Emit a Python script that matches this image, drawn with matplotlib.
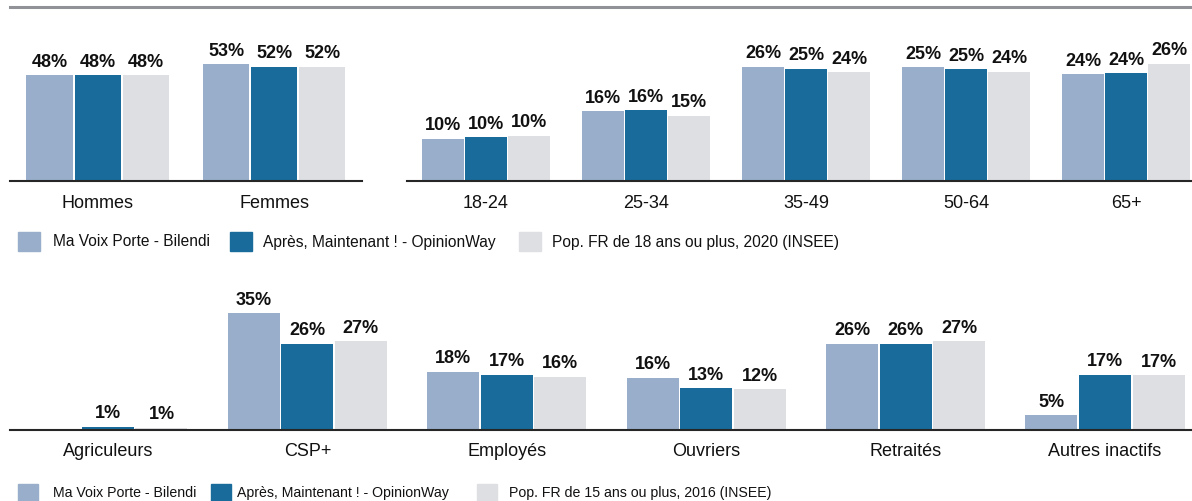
import matplotlib
matplotlib.use("Agg")
import matplotlib.pyplot as plt
from matplotlib import font_manager
from matplotlib.patches import Rectangle
from matplotlib.lines import Line2D

# ---- data -------------------------------------------------------------
gender_cats = ['Hommes', 'Femmes']
gender_bilendi = [48, 53]
gender_opinionway = [48, 52]
gender_pop = [48, 52]

age_cats = ['18-24', '25-34', '35-49', '50-64', '65+']
age_bilendi = [9.55, 15.8, 26.0, 25.8, 24.3]
age_opinionway = [9.9, 16.1, 25.45, 25.4, 24.5]
age_pop = [10.3, 14.8, 24.7, 24.8, 26.6]
age_bilendi_lbl = [10, 16, 26, 25, 24]
age_opinionway_lbl = [10, 16, 25, 25, 24]
age_pop_lbl = [10, 15, 24, 24, 26]

csp_cats = ['Agriculeurs', 'CSP+', 'Employés', 'Ouvriers', 'Retraités',
            'Autres inactifs']
csp_bilendi = [None, 35.1, 17.6, 15.8, 26.0, 4.4]
csp_opinionway = [1.0, 26.0, 16.7, 12.6, 26.0, 16.7]
csp_pop = [0.6, 26.7, 16.0, 12.2, 26.7, 16.5]
csp_bilendi_lbl = [None, 35, 18, 16, 26, 5]
csp_opinionway_lbl = [1, 26, 17, 13, 26, 17]
csp_pop_lbl = [1, 27, 16, 12, 27, 17]

series_names = ['Ma Voix Porte - Bilendi',
                'Après, Maintenant ! - OpinionWay']
pop_name_top = 'Pop. FR de 18 ans ou plus, 2020 (INSEE)'
pop_name_bottom = 'Pop. FR de 15 ans ou plus, 2016 (INSEE)'

# ---- style ------------------------------------------------------------
COLORS = ['#98aeca', '#186b9b', '#dedfe3']
W, H = 1192, 502

names = {f.name for f in font_manager.fontManager.ttflist}
if 'Liberation Sans Narrow' in names:
    CAT_FONT, CAT_SIZE = 'Liberation Sans Narrow', 15.5
else:
    CAT_FONT, CAT_SIZE = 'Liberation Sans', 13
plt.rcParams['font.family'] = ['Liberation Sans', 'DejaVu Sans']

fig = plt.figure(figsize=(W / 100, H / 100), dpi=100)


def px_axes(x0, x1, top, base):
    """Axes placed by pixel coordinates (y measured from the top)."""
    return fig.add_axes([x0 / W, (H - base) / H, (x1 - x0) / W,
                         (base - top) / H])


def panel(x0, x1, top, base, first_c, spacing, px_per_unit,
          cats, series, labels, bar_px, step_px, pad):
    ax = px_axes(x0, x1, top, base)
    n = len(cats)
    ax.set_xlim(-(first_c - x0) / spacing,
                (n - 1) + (x1 - (first_c + spacing * (n - 1))) / spacing)
    ax.set_ylim(0, (base - top) / px_per_unit)
    width = bar_px / spacing
    step = step_px / spacing
    for k, (vals, lbls) in enumerate(zip(series, labels)):
        for i, (v, lb) in enumerate(zip(vals, lbls)):
            if v is None:
                continue
            x = i + (k - 1) * step
            ax.bar(x, v, width=width, color=COLORS[k], edgecolor='none',
                   zorder=1)
            ax.annotate(f"{lb}%", (x, v), xytext=(0, 4),
                        textcoords='offset points', ha='center',
                        va='bottom', fontsize=13, fontweight='bold',
                        color='#111111', annotation_clip=False)
    for s in ['top', 'right', 'left']:
        ax.spines[s].set_visible(False)
    ax.spines['bottom'].set_color('#262626')
    ax.spines['bottom'].set_linewidth(1.5)
    ax.set_yticks([])
    ax.set_xticks(range(n))
    ax.set_xticklabels(cats, family=CAT_FONT, fontsize=CAT_SIZE,
                       color='#111111')
    ax.tick_params(axis='x', length=0, pad=pad)
    ax.patch.set_alpha(0)
    return ax


panel(10, 362, 20, 182, 97.5, 176.5, 2.2, gender_cats,
      [gender_bilendi, gender_opinionway, gender_pop],
      [gender_bilendi, gender_opinionway, gender_pop], 46, 48, 9.5)

panel(407, 1192, 20, 182, 486, 160, 4.4, age_cats,
      [age_bilendi, age_opinionway, age_pop],
      [age_bilendi_lbl, age_opinionway_lbl, age_pop_lbl], 42, 43, 9.5)

panel(10, 1192, 280, 431, 108, 199.4, 3.32, csp_cats,
      [csp_bilendi, csp_opinionway, csp_pop],
      [csp_bilendi_lbl, csp_opinionway_lbl, csp_pop_lbl], 52, 53.5, 8.5)

# top grey rule
fig.add_artist(Line2D([10 / W, 1.0], [(H - 8) / H] * 2, color='#909298',
                      linewidth=2.2))


def legend_row(yc, sq_x, txt_x, texts, size, sq_w, sq_h):
    for k, (sx, tx, t) in enumerate(zip(sq_x, txt_x, texts)):
        fig.add_artist(Rectangle((sx / W, (H - yc - sq_h / 2) / H),
                                 sq_w / W, sq_h / H, color=COLORS[k]))
        fig.text(tx / W, (H - yc) / H, t, fontsize=size, va='center',
                 ha='left', color='#111111')


legend_row(242, [18, 230, 519], [53, 263, 552],
           series_names + [pop_name_top], 11.2, 22, 19)
legend_row(493, [18, 211, 477], [53, 237, 509],
           series_names + [pop_name_bottom], 10.2, 20, 17)

fig.savefig('out.png', dpi=100)
